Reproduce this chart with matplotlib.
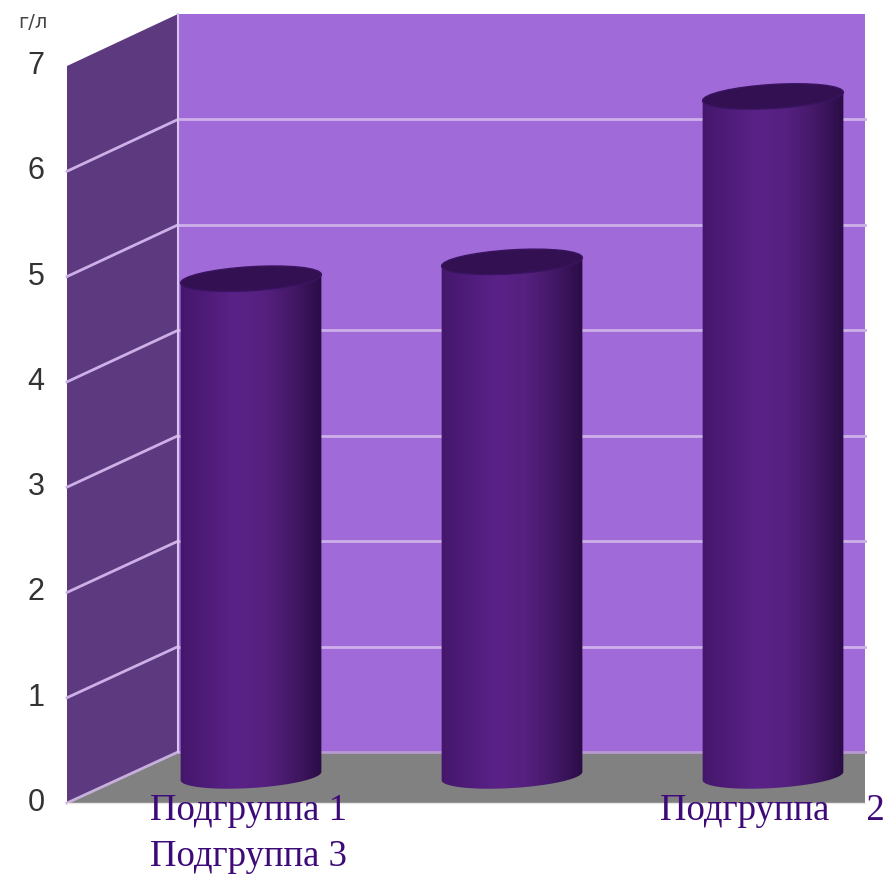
import numpy as np
import matplotlib
matplotlib.use("Agg")
import matplotlib.pyplot as plt
from matplotlib.patches import Polygon, Ellipse
from matplotlib.colors import LinearSegmentedColormap

# ---- data ----
categories = ["Подгруппа 1", "Подгруппа 3", "Подгруппа    2"]
values = [4.72, 4.88, 6.45]
y_ticks = [0, 1, 2, 3, 4, 5, 6, 7]
unit_label = "г/л"

# ---- geometry (pixel-space axes) ----
W, H = 895, 877
fig = plt.figure(figsize=(W / 100, H / 100), dpi=100)
ax = fig.add_axes([0, 0, 1, 1])
ax.set_xlim(0, W)
ax.set_ylim(H, 0)
ax.axis("off")

ymax = 7
back_x0, back_x1 = 178, 865
back_y0, back_top = 752, 14
front_x = 67
front_y0, front_top = 803, 66
unit_back = (back_y0 - back_top) / ymax
unit_front = (front_y0 - front_top) / ymax
mid_y0 = 776
unit_mid = (unit_back + unit_front) / 2


def yb(v):
    return back_y0 - v * unit_back


def yf(v):
    return front_y0 - v * unit_front


def ym(v):
    return mid_y0 - v * unit_mid


back_col = "#a06ad8"
side_col = "#5d3a80"
floor_col = "#818181"
grid_col = "#cdb0e8"

# back wall
ax.add_patch(Polygon([(back_x0, yb(0)), (back_x1, yb(0)), (back_x1, yb(ymax)), (back_x0, yb(ymax))],
                     closed=True, facecolor=back_col, edgecolor="none", zorder=1))
# side wall
ax.add_patch(Polygon([(front_x, yf(0)), (back_x0, yb(0)), (back_x0, yb(ymax)), (front_x, yf(ymax))],
                     closed=True, facecolor=side_col, edgecolor="none", zorder=1))
# floor
ax.add_patch(Polygon([(front_x, yf(0)), (back_x0, yb(0)), (back_x1, yb(0)), (back_x1, yf(0))],
                     closed=True, facecolor=floor_col, edgecolor="none", zorder=1))

# gridlines
for v in y_ticks[1:-1]:
    ax.plot([back_x0, back_x1], [yb(v), yb(v)], color=grid_col, lw=2.0, zorder=2)
    ax.plot([front_x, back_x0], [yf(v), yb(v)], color=grid_col, lw=2.0, zorder=2)
ax.plot([back_x0, back_x1], [yb(0), yb(0)], color="#b79ad0", lw=2, zorder=2)
ax.plot([front_x, back_x0], [yf(0), yb(0)], color="#c8b0dc", lw=2, zorder=2)
ax.plot([back_x0, back_x0], [yb(0), yb(ymax)], color="#d8c4ee", lw=1.5, zorder=2)
ax.plot([front_x, back_x1], [yf(0), yf(0)], color="#e8e8e8", lw=1, zorder=2)

# tick labels
for v in y_ticks:
    ax.text(36, yf(v), str(v), ha="center", va="center", fontsize=22,
            color="#333333", family="Liberation Sans", zorder=5)
ax.text(33, 22, unit_label, ha="center", va="center", fontsize=14,
        color="#444444", family="DejaVu Sans", zorder=5)

# cylinders
cyl_w = 141
cx0, step = 251, 261
ell_h = 24
tilt = 3.5
body_cmap = LinearSegmentedColormap.from_list(
    "body", ["#44176a", "#4f1c7a", "#5a2288", "#55207f", "#431866", "#2a0c45"])

for i, v in enumerate(values):
    cx = cx0 + i * step
    x0, x1 = cx - cyl_w / 2, cx + cyl_w / 2
    ytop, ybot = ym(v), ym(0)
    t = np.linspace(0, np.pi, 80)
    a, b = cyl_w / 2, ell_h / 2
    th = np.deg2rad(tilt)
    ex = a * np.cos(t)
    ey = b * np.sin(t)
    bx = cx + ex * np.cos(th) + ey * np.sin(th)
    by = ybot + (-ex * np.sin(th) + ey * np.cos(th))
    left_b = (bx[-1], by[-1])
    right_b = (bx[0], by[0])
    tx_r = cx + a * np.cos(th)
    ty_r = ytop - a * np.sin(th)
    tx_l = cx - a * np.cos(th)
    ty_l = ytop + a * np.sin(th)
    verts = [(tx_l, ty_l), (tx_r, ty_r), right_b] + list(zip(bx, by)) + [left_b, (tx_l, ty_l)]
    grad = np.linspace(0, 1, 256).reshape(1, -1)
    im = ax.imshow(grad, cmap=body_cmap, extent=[x0 - 2, x1 + 2, by.max() + 2, ty_r - 2],
                   aspect="auto", zorder=3, interpolation="bilinear")
    clip = Polygon(verts, closed=True, transform=ax.transData, facecolor="none", edgecolor="none")
    ax.add_patch(clip)
    im.set_clip_path(clip)
    ax.add_patch(Ellipse((cx, ytop), cyl_w, ell_h, angle=-tilt, facecolor="#321052",
                         edgecolor="#3a1460", lw=1, zorder=4))

# category labels
lab_col = "#3d0a78"
ax.text(150, 811, categories[0], ha="left", va="center", fontsize=26.5,
        family="Liberation Serif", color=lab_col, zorder=5)
ax.text(150, 857, categories[1], ha="left", va="center", fontsize=26.5,
        family="Liberation Serif", color=lab_col, zorder=5)
ax.text(660, 811, categories[2], ha="left", va="center", fontsize=26.5,
        family="Liberation Serif", color=lab_col, zorder=5)

fig.savefig("out.png", dpi=100)
